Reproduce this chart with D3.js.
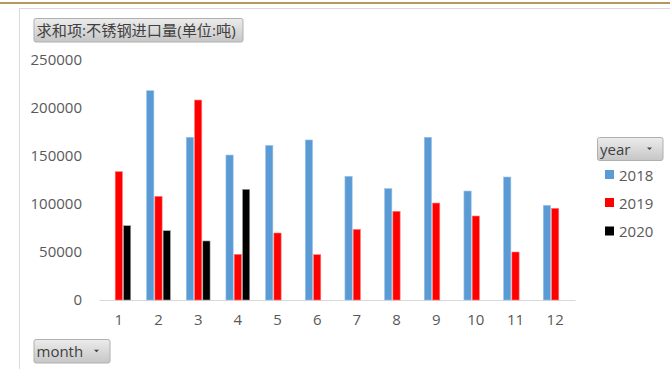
<!DOCTYPE html>
<html>
<head>
<meta charset="utf-8">
<script src="https://cdn.jsdelivr.net/npm/d3@7"></script>
<style>
  html, body { margin: 0; padding: 0; background: #ffffff; }
  svg { display: block; }
  text { font-family: "Open Sans", "Noto Sans", "Noto Sans CJK SC", sans-serif; }
</style>
</head>
<body>
<svg id="chart" width="670" height="369"></svg>
<script>
const months = ["1","2","3","4","5","6","7","8","9","10","11","12"];
const years = ["2018","2019","2020"];
const values2018 = [null, 218000, 169500, 151000, 161000, 166700, 128800, 116000, 169500, 113500, 128100, 98600];
const values2019 = [133700, 108000, 208300, 47600, 69800, 47200, 73600, 92400, 101000, 87500, 50000, 95500];
const values2020 = [77400, 72200, 61500, 115300, null, null, null, null, null, null, null, null];
const yTicks = [0, 50000, 100000, 150000, 200000, 250000];
const colors = ["#5b9bd5", "#ff0000", "#000000"];
const strokes = ["#9cc3e6", "#ff8080", "#a6a6a6"];
const titleText = "求和项:不锈钢进口量(单位:吨)";
const xFieldText = "month";
const legendFieldText = "year";

const series = [values2018, values2019, values2020];

const svg = d3.select("#chart");

// top decorative gold line
svg.append("rect").attr("x", 0).attr("y", 2).attr("width", 670).attr("height", 2).attr("fill", "#b39a5e");
// panel border
svg.append("path")
  .attr("d", "M19.5,369 L19.5,8.5 L670,8.5")
  .attr("fill", "none").attr("stroke", "#d9d9d9").attr("stroke-width", 1);

const defs = svg.append("defs");
const grad = defs.append("linearGradient").attr("id", "btn").attr("x1", 0).attr("y1", 0).attr("x2", 0).attr("y2", 1);
grad.append("stop").attr("offset", "0%").attr("stop-color", "#ececec");
grad.append("stop").attr("offset", "100%").attr("stop-color", "#c6c6c6");

function button(x, y, w, h, label, arrow, fs) {
  const g = svg.append("g");
  g.append("rect").attr("x", x + 0.5).attr("y", y + 0.5).attr("width", w).attr("height", h)
    .attr("rx", 2).attr("fill", "url(#btn)").attr("stroke", "#b0b0b0");
  g.append("text").attr("x", x + 3).attr("y", y + h / 2 + 0.5).attr("dominant-baseline", "central")
    .attr("font-size", fs).attr("fill", "#404040").text(label);
  if (arrow) {
    const ax = x + w - 13, ay = y + h / 2 - 1;
    g.append("path").attr("d", `M${ax - 2.5},${ay} L${ax + 2.5},${ay} L${ax},${ay + 2.5} Z`).attr("fill", "#404040");
  }
}

button(33.5, 18, 209, 23.5, titleText, false, "15.2px");
button(33.5, 339, 76, 23.5, xFieldText, true, "15px");
button(597, 137, 65.5, 23, legendFieldText, true, "15px");

const x = d3.scaleBand().domain(months).range([99, 575]).padding(0);
const groupW = 24.8;
const x1 = d3.scaleBand().domain(years).range([0, groupW]);
const y = d3.scaleLinear().domain([0, 250000]).range([300, 60]);

// x axis
const xAxis = svg.append("g").attr("transform", "translate(0,300)")
  .call(d3.axisBottom(x).tickSize(0).tickSizeOuter(0).tickPadding(14));
xAxis.select(".domain").attr("stroke", "#d9d9d9").attr("stroke-width", 1.2);
xAxis.selectAll("text").attr("font-size", "15px").attr("fill", "#595959")
  .style("font-family", "\"Open Sans\", sans-serif");

// y axis
const yAxis = svg.append("g").attr("transform", "translate(99,0)")
  .call(d3.axisLeft(y).tickValues(yTicks).tickSize(0).tickPadding(17).tickFormat(d3.format("d")));
yAxis.select(".domain").remove();
yAxis.selectAll("text").attr("font-size", "15px").attr("fill", "#595959")
  .style("font-family", "\"Open Sans\", sans-serif");

// bars
series.forEach((vals, si) => {
  const data = months.map((m, i) => ({ m, v: vals[i] })).filter(d => d.v != null);
  svg.append("g").selectAll("rect").data(data).join("rect")
    .attr("x", d => x(d.m) + (x.bandwidth() - groupW) / 2 + x1(years[si]) + 0.5)
    .attr("y", d => y(d.v))
    .attr("width", x1.bandwidth() - 1)
    .attr("height", d => y(0) - y(d.v))
    .attr("fill", colors[si])
    .attr("stroke", strokes[si])
    .attr("stroke-width", 0.6);
});

// legend
const legendY = [174.5, 202.5, 231];
years.forEach((yr, i) => {
  svg.append("rect").attr("x", 605).attr("y", legendY[i] - 4.5).attr("width", 9).attr("height", 9).attr("fill", colors[i]);
  svg.append("text").attr("x", 619).attr("y", legendY[i]).attr("dominant-baseline", "central")
    .attr("font-size", "15px").attr("fill", "#595959").text(yr);
});
</script>
</body>
</html>
